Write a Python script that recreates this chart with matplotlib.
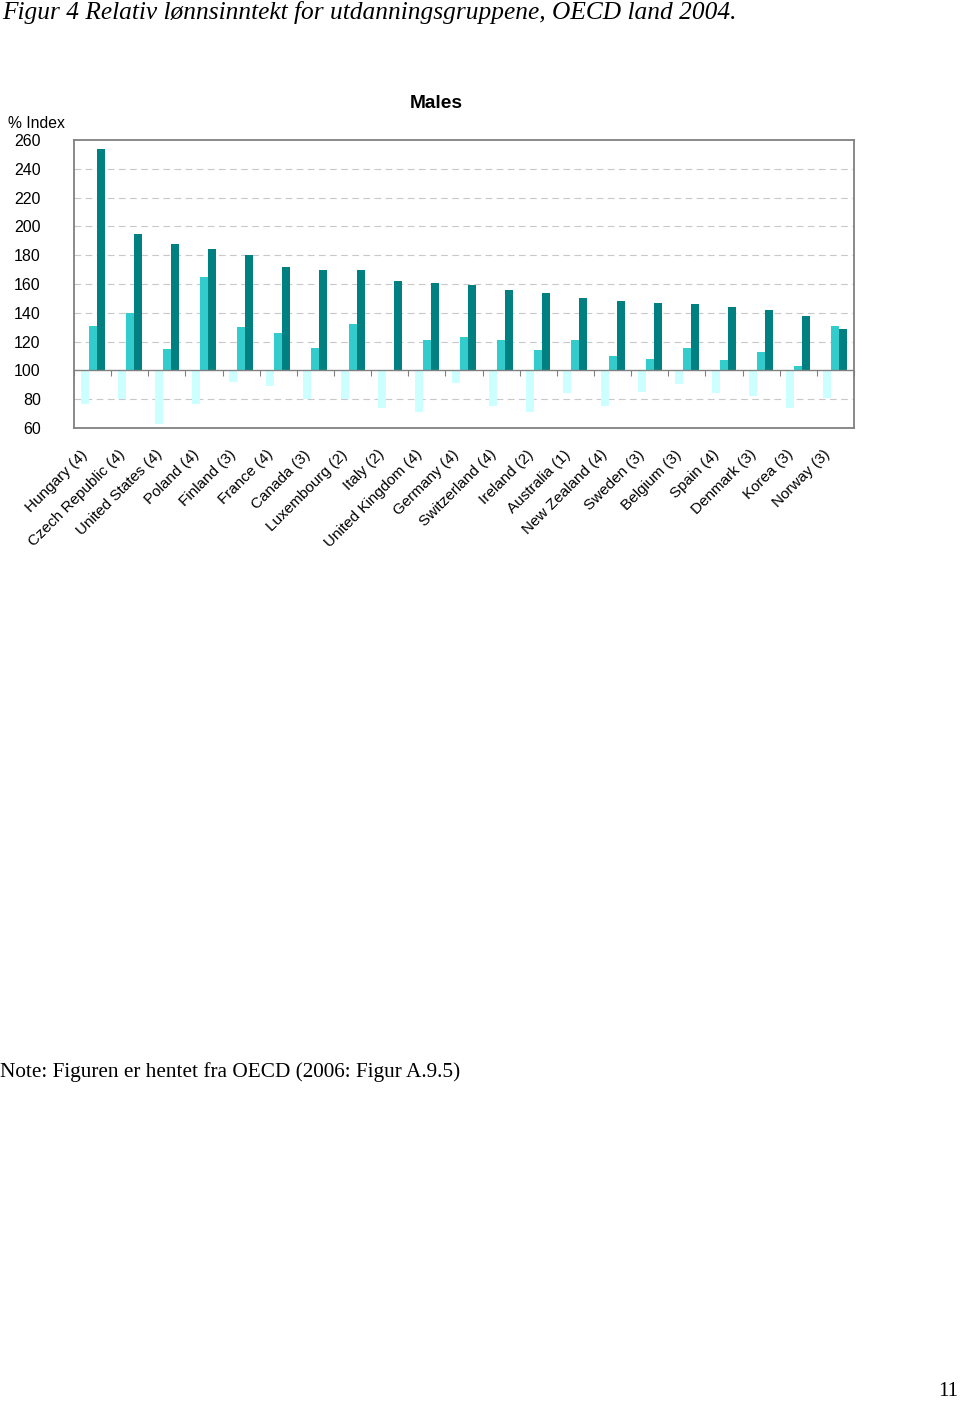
import matplotlib
matplotlib.use("Agg")
import matplotlib.pyplot as plt
import matplotlib.transforms as mtransforms
import numpy as np

countries = ["Hungary (4)", "Czech Republic (4)", "United States (4)", "Poland (4)",
             "Finland (3)", "France (4)", "Canada (3)", "Luxembourg (2)", "Italy (2)",
             "United Kingdom (4)", "Germany (4)", "Switzerland (4)", "Ireland (2)",
             "Australia (1)", "New Zealand (4)", "Sweden (3)", "Belgium (3)", "Spain (4)",
             "Denmark (3)", "Korea (3)", "Norway (3)"]
below_upper_secondary = [77, 80, 63, 77, 92, 89, 80, 80, 74, 71, 91, 75, 71, 84,
                         75, 85, 90.5, 84.5, 82, 74, 81]
tertiary_b = [131, 140, 115, 165, 130, 126, 115.5, 132, np.nan, 121, 123, 121, 114, 121,
              110, 108, 115.5, 107, 112.5, 103, 131]
tertiary_a = [254, 195, 188, 184.5, 180, 172, 170, 170, 162, 161, 159, 156, 154, 150.5,
              148, 147, 146, 144, 142, 138, 129]
yticks = [60, 80, 100, 120, 140, 160, 180, 200, 220, 240, 260]

W, H = 960, 1403
fig = plt.figure(figsize=(W / 100, H / 100), dpi=100)
sans = ["Liberation Sans", "DejaVu Sans"]
serif = ["Liberation Serif", "DejaVu Serif"]

ax = fig.add_axes([74 / W, 1 - 428 / H, (854 - 74) / W, (428 - 140) / H])
n = len(countries)
x = np.arange(n)
bw = 0.215
base = 100
below = np.array(below_upper_secondary, dtype=float)
tb = np.array(tertiary_b, dtype=float)
ta = np.array(tertiary_a, dtype=float)
ax.bar(x - bw, below - base, bottom=base, width=bw, color="#CCFFFF", zorder=3)
ax.bar(x, tb - base, bottom=base, width=bw, color="#33CCCC", zorder=3)
ax.bar(x + bw, ta - base, bottom=base, width=bw, color="#008080", zorder=3)

ax.set_xlim(-0.5, n - 0.5)
ax.set_ylim(60, 260)
ax.set_yticks(yticks)
ax.set_yticklabels([str(v) for v in yticks], fontsize=11.5, family=sans)
ax.tick_params(axis="y", length=0, pad=24)
for v in yticks:
    if v not in (60, 100, 260):
        ax.axhline(v, color="#C8C8C8", lw=0.8, ls=(0, (6, 4)), zorder=1)
ax.axhline(100, color="#808080", lw=1.0, zorder=4)

ax.set_xticks(x)
ax.set_xticklabels(countries, rotation=45, ha="right", rotation_mode="anchor",
                   fontsize=11, family=sans)
ax.tick_params(axis="x", length=0, pad=14)
offset = mtransforms.ScaledTranslation(-12 / 100, 0, fig.dpi_scale_trans)
for lbl in ax.get_xticklabels():
    lbl.set_transform(lbl.get_transform() + offset)

sec = ax.secondary_xaxis((100 - 60) / 200)
sec.set_xticks(np.arange(n + 1) - 0.5)
sec.set_xticklabels([])
sec.tick_params(axis="x", length=4, direction="out", color="#808080", width=0.8)
sec.spines["bottom"].set_visible(False)

for s in ax.spines.values():
    s.set_color("#808080")
    s.set_linewidth(1.3)

fig.text(436 / W, 1 - 104 / H, "Males", ha="center", va="center",
         fontsize=13.8, fontweight="bold", family=sans)
fig.text(8 / W, 1 - 123 / H, "% Index", ha="left", va="center", fontsize=11.3, family=sans)

fig.text(2 / W, 1 - 12 / H, "Figur 4 Relativ lønnsinntekt for utdanningsgruppene, OECD land 2004.",
         ha="left", va="center", fontsize=18.3, style="italic", family=serif)
fig.text(0 / W, 1 - 1072 / H, "Note: Figuren er hentet fra OECD (2006: Figur A.9.5)",
         ha="left", va="center", fontsize=15.3, family=serif)
fig.text(958 / W, 1 - 1391 / H, "11", ha="right", va="center", fontsize=15, family=serif)

fig.savefig("out.png", dpi=100)
